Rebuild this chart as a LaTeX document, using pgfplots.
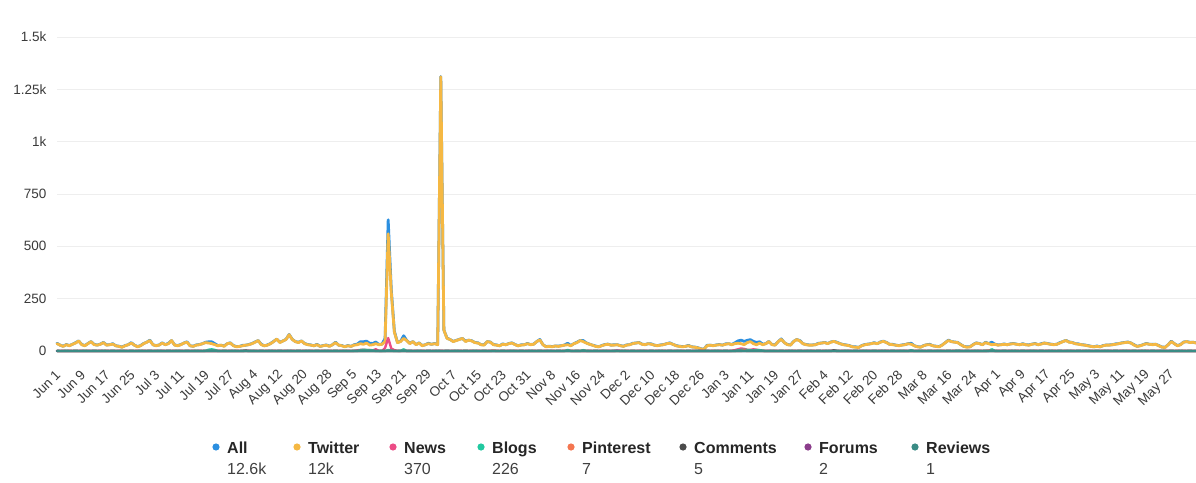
\documentclass[border=0pt]{standalone}
\usepackage{fontspec}
\setmainfont{Liberation Sans}
\usepackage{pgfplots}
\usepackage{pgfplotstable}
\pgfplotsset{compat=1.18}
\definecolor{cAll}{HTML}{2B8FE0}
\definecolor{cTw}{HTML}{F5B843}
\definecolor{cNews}{HTML}{EC4C86}
\definecolor{cBlogs}{HTML}{22C9A0}
\definecolor{cPin}{HTML}{F47650}
\definecolor{cCom}{HTML}{4B4B4B}
\definecolor{cFor}{HTML}{8B3D8B}
\definecolor{cRev}{HTML}{3A8C85}
\definecolor{cGrid}{HTML}{EEEEEE}
\definecolor{cTick}{HTML}{3A3A3A}

\pgfplotstableread{
d tw all news blogs
0 35 37 1 1
1 28 28 0 0
2 22 23 1 0
3 30 31 0 1
4 25 26 1 0
5 32 32 0 0
6 38 40 1 1
7 48 48 0 0
8 30 31 1 0
9 25 26 0 1
10 35 36 1 0
11 45 45 0 0
12 30 32 1 1
13 28 28 0 0
14 32 33 1 0
15 40 41 0 1
16 28 29 1 0
17 30 30 0 0
18 33 35 1 1
19 25 25 0 0
20 22 23 1 0
21 18 19 0 1
22 25 26 1 0
23 30 30 0 0
24 38 40 1 1
25 28 28 0 0
26 20 21 1 0
27 25 26 0 1
28 35 36 1 0
29 42 42 0 0
30 50 52 1 1
31 30 30 0 0
32 25 26 1 0
33 28 29 0 1
34 38 39 1 0
35 30 30 0 0
36 35 37 1 1
37 50 50 0 0
38 28 29 1 0
39 25 26 0 1
40 30 31 1 0
41 38 38 0 0
42 42 44 1 1
43 25 25 0 0
44 22 23 1 0
45 28 29 0 1
46 30 31 1 0
47 35 35 0 0
48 40 42 1 1
49 38 44 0 6
50 35 44 1 8
51 30 35 0 5
52 25 26 1 0
53 28 28 0 0
54 22 24 1 1
55 35 35 0 0
56 38 39 1 0
57 25 26 0 1
58 20 21 1 0
59 22 22 0 0
60 25 27 1 1
61 28 28 0 0
62 30 31 1 0
63 35 36 0 1
64 42 43 1 0
65 50 50 0 0
66 30 32 1 1
67 25 25 0 0
68 28 29 1 0
69 35 36 0 1
70 45 46 1 0
71 57 57 0 0
72 40 42 1 1
73 48 48 0 0
74 55 56 1 0
75 78 79 0 1
76 55 56 1 0
77 45 45 0 0
78 40 42 1 1
79 48 48 0 0
80 35 36 1 0
81 30 31 0 1
82 28 29 1 0
83 25 25 0 0
84 30 32 1 1
85 22 22 0 0
86 25 26 1 0
87 28 29 0 1
88 22 23 1 0
89 30 30 0 0
90 40 42 1 1
91 28 28 0 0
92 25 26 1 0
93 20 21 0 1
94 25 26 1 0
95 22 22 0 0
96 28 30 1 1
97 30 33 3 0
98 35 44 5 4
99 32 44 6 6
100 38 47 4 5
101 28 37 5 4
102 30 36 3 3
103 35 43 8 0
104 30 31 1 0
105 32 33 0 1
106 45 60 15 0
107 560 627 62 5
108 280 294 12 2
109 90 94 4 0
110 40 41 1 0
111 45 46 0 1
112 60 73 5 8
113 50 50 0 0
114 35 37 1 1
115 45 45 0 0
116 30 31 1 0
117 38 39 0 1
118 25 26 1 0
119 30 30 0 0
120 35 37 1 1
121 32 32 0 0
122 35 36 1 0
123 30 31 0 1
124 1310 1311 1 0
125 100 100 0 0
126 60 62 1 1
127 55 55 0 0
128 45 46 1 0
129 50 51 0 1
130 55 56 1 0
131 60 60 0 0
132 45 47 1 1
133 52 52 0 0
134 48 49 1 0
135 40 41 0 1
136 38 39 1 0
137 30 30 0 0
138 28 30 1 1
139 45 45 0 0
140 42 43 1 0
141 30 31 0 1
142 28 29 1 0
143 25 25 0 0
144 32 34 1 1
145 30 30 0 0
146 35 36 1 0
147 38 39 0 1
148 30 31 1 0
149 25 25 0 0
150 28 30 1 1
151 30 30 0 0
152 35 36 1 0
153 30 31 0 1
154 32 33 1 0
155 45 45 0 0
156 53 55 1 1
157 30 30 0 0
158 20 21 1 0
159 22 23 0 1
160 20 21 1 0
161 24 24 0 0
162 22 24 1 1
163 25 25 0 0
164 28 29 1 0
165 30 37 2 5
166 25 26 1 0
167 35 35 0 0
168 40 42 1 1
169 50 50 0 0
170 45 50 1 4
171 38 39 0 1
172 32 33 1 0
173 28 28 0 0
174 22 24 1 1
175 20 20 0 0
176 25 26 1 0
177 30 31 0 1
178 32 33 1 0
179 28 28 0 0
180 28 30 1 1
181 30 30 0 0
182 25 26 1 0
183 22 23 0 1
184 28 29 1 0
185 30 30 0 0
186 35 37 1 1
187 38 38 0 0
188 40 41 1 0
189 32 33 0 1
190 30 31 1 0
191 35 35 0 0
192 32 34 1 1
193 28 28 0 0
194 25 26 1 0
195 28 29 0 1
196 30 31 1 0
197 35 35 0 0
198 37 39 1 1
199 32 32 0 0
200 25 26 1 0
201 22 23 0 1
202 20 21 1 0
203 22 22 0 0
204 25 27 1 1
205 20 20 0 0
206 18 19 1 0
207 15 16 0 1
208 10 11 1 0
209 8 8 0 0
210 25 27 1 1
211 28 28 0 0
212 25 26 1 0
213 28 29 0 1
214 30 31 1 0
215 28 28 0 0
216 32 34 1 1
217 35 35 0 0
218 30 31 1 0
219 35 39 4 0
220 37 48 8 3
221 35 52 12 5
222 30 46 10 6
223 40 51 6 5
224 45 54 5 4
225 35 46 8 3
226 30 41 6 5
227 37 44 3 4
228 30 33 1 2
229 35 35 0 0
230 45 46 1 0
231 30 31 0 1
232 28 29 1 0
233 45 45 0 0
234 56 58 1 1
235 40 40 0 0
236 30 31 1 0
237 28 29 0 1
238 45 46 1 0
239 55 55 0 0
240 48 50 1 1
241 35 35 0 0
242 30 31 1 0
243 28 29 0 1
244 28 29 1 0
245 30 30 0 0
246 35 37 1 1
247 38 38 0 0
248 40 41 1 0
249 35 36 0 1
250 42 43 1 0
251 46 46 0 0
252 40 42 1 1
253 35 35 0 0
254 30 31 1 0
255 28 29 0 1
256 25 26 1 0
257 20 20 0 0
258 18 20 1 1
259 17 17 0 0
260 25 26 1 0
261 30 31 0 1
262 32 33 1 0
263 35 35 0 0
264 38 40 1 1
265 35 35 0 0
266 42 43 1 0
267 46 47 0 1
268 40 41 1 0
269 32 32 0 0
270 30 32 1 1
271 28 28 0 0
272 25 26 1 0
273 28 29 0 1
274 30 31 1 0
275 35 35 0 0
276 32 37 1 4
277 25 25 0 0
278 20 21 1 0
279 18 19 0 1
280 25 26 1 0
281 30 30 0 0
282 30 32 1 1
283 25 25 0 0
284 22 23 1 0
285 20 21 0 1
286 28 29 1 0
287 40 40 0 0
288 50 52 1 1
289 45 45 0 0
290 42 43 1 0
291 40 41 0 1
292 30 31 1 0
293 22 22 0 0
294 18 20 1 1
295 20 20 0 0
296 30 31 1 0
297 38 39 0 1
298 35 36 1 0
299 30 30 0 0
300 40 42 1 1
301 35 35 0 0
302 30 42 4 8
303 32 33 0 1
304 28 29 1 0
305 30 30 0 0
306 32 34 1 1
307 30 30 0 0
308 33 34 1 0
309 35 36 0 1
310 32 33 1 0
311 30 30 0 0
312 33 35 1 1
313 30 30 0 0
314 28 29 1 0
315 32 33 0 1
316 35 36 1 0
317 30 30 0 0
318 33 35 1 1
319 38 38 0 0
320 35 36 1 0
321 32 33 0 1
322 30 31 1 0
323 32 32 0 0
324 38 40 1 1
325 45 45 0 0
326 50 51 1 0
327 42 43 0 1
328 40 41 1 0
329 35 35 0 0
330 32 34 1 1
331 30 30 0 0
332 28 29 1 0
333 25 26 0 1
334 22 23 1 0
335 20 20 0 0
336 22 24 1 1
337 20 20 0 0
338 25 26 1 0
339 28 29 0 1
340 28 29 1 0
341 30 30 0 0
342 32 34 1 1
343 35 35 0 0
344 38 39 1 0
345 40 41 0 1
346 42 43 1 0
347 38 38 0 0
348 28 30 1 1
349 22 22 0 0
350 25 26 1 0
351 30 31 0 1
352 35 36 1 0
353 32 32 0 0
354 30 32 1 1
355 32 32 0 0
356 25 26 1 0
357 18 19 0 1
358 17 18 1 0
359 30 30 0 0
360 45 47 1 1
361 35 35 0 0
362 25 26 1 0
363 30 31 0 1
364 42 43 1 0
365 45 45 0 0
366 40 42 1 1
367 42 42 0 0
368 38 39 1 0
}\data

\begin{document}
\begin{tikzpicture}[x=1pt,y=1pt]
\path[use as bounding box] (0,0) rectangle (1196,482);
\begin{axis}[
  at={(57pt,131pt)}, anchor=south west, scale only axis,
  width=1139pt, height=314pt,
  xmin=0, xmax=368, ymin=0, ymax=1500,
  axis line style={draw=none}, tick style={draw=none},
  ymajorgrids, grid style={cGrid, line width=0.9pt},
  ytick={0,250,500,750,1000,1250,1500},
  yticklabels={0,250,500,750,1k,1.25k,1.5k},
  xtick={0,8,...,360},
  xticklabels={Jun 1,Jun 9,Jun 17,Jun 25,Jul 3,Jul 11,Jul 19,Jul 27,Aug 4,Aug 12,Aug 20,Aug 28,Sep 5,Sep 13,Sep 21,Sep 29,Oct 7,Oct 15,Oct 23,Oct 31,Nov 8,Nov 16,Nov 24,Dec 2,Dec 10,Dec 18,Dec 26,Jan 3,Jan 11,Jan 19,Jan 27,Feb 4,Feb 12,Feb 20,Feb 28,Mar 8,Mar 16,Mar 24,Apr 1,Apr 9,Apr 17,Apr 25,May 3,May 11,May 19,May 27},
  ticklabel style={font=\fontsize{13.5}{14}\selectfont, text=cTick},
  yticklabel style={anchor=east, xshift=-7pt},
  xticklabel style={rotate=45, anchor=east, xshift=-11pt, yshift=-16pt},
  clip=false,
  every axis plot/.append style={line join=round, line cap=round},
]
\addplot[cAll, line width=2.8pt] table[x=d,y=all]{\data};
\addplot[cTw, line width=2.8pt] table[x=d,y=tw]{\data};
\addplot[cNews, line width=2.4pt] table[x=d,y=news]{\data};
\addplot[cBlogs, line width=2.4pt] table[x=d,y=blogs]{\data};
\addplot[cPin, line width=2.4pt] coordinates {(0,0) (140,0) (141,2) (142,0) (221,0) (222,3) (223,0) (300,0) (301,2) (302,0) (368,0)};
\addplot[cCom, line width=2.4pt] coordinates {(0,0) (60,0) (61,2) (62,0) (250,0) (251,3) (252,0) (368,0)};
\addplot[cFor, line width=2.4pt] coordinates {(0,0) (180,0) (181,2) (182,0) (368,0)};
\addplot[cRev, line width=2.4pt] coordinates {(0,0) (290,0) (291,1) (292,0) (368,0)};
\end{axis}
% legend
\foreach \cx/\col/\lab/\val in {216/cAll/All/12.6k, 297/cTw/Twitter/12k, 393/cNews/News/370, 481/cBlogs/Blogs/226, 571/cPin/Pinterest/7, 683/cCom/Comments/5, 808/cFor/Forums/2, 915/cRev/Reviews/1}{
  \fill[\col] (\cx,35) circle (3.6);
  \node[anchor=base west, inner sep=0, text=black!85, font=\bfseries\fontsize{16}{18}\selectfont] at (\cx+11,29) {\lab};
  \node[anchor=base west, inner sep=0, text=black!75, font=\fontsize{16}{18}\selectfont] at (\cx+11,8) {\val};
}
\end{tikzpicture}
\end{document}
